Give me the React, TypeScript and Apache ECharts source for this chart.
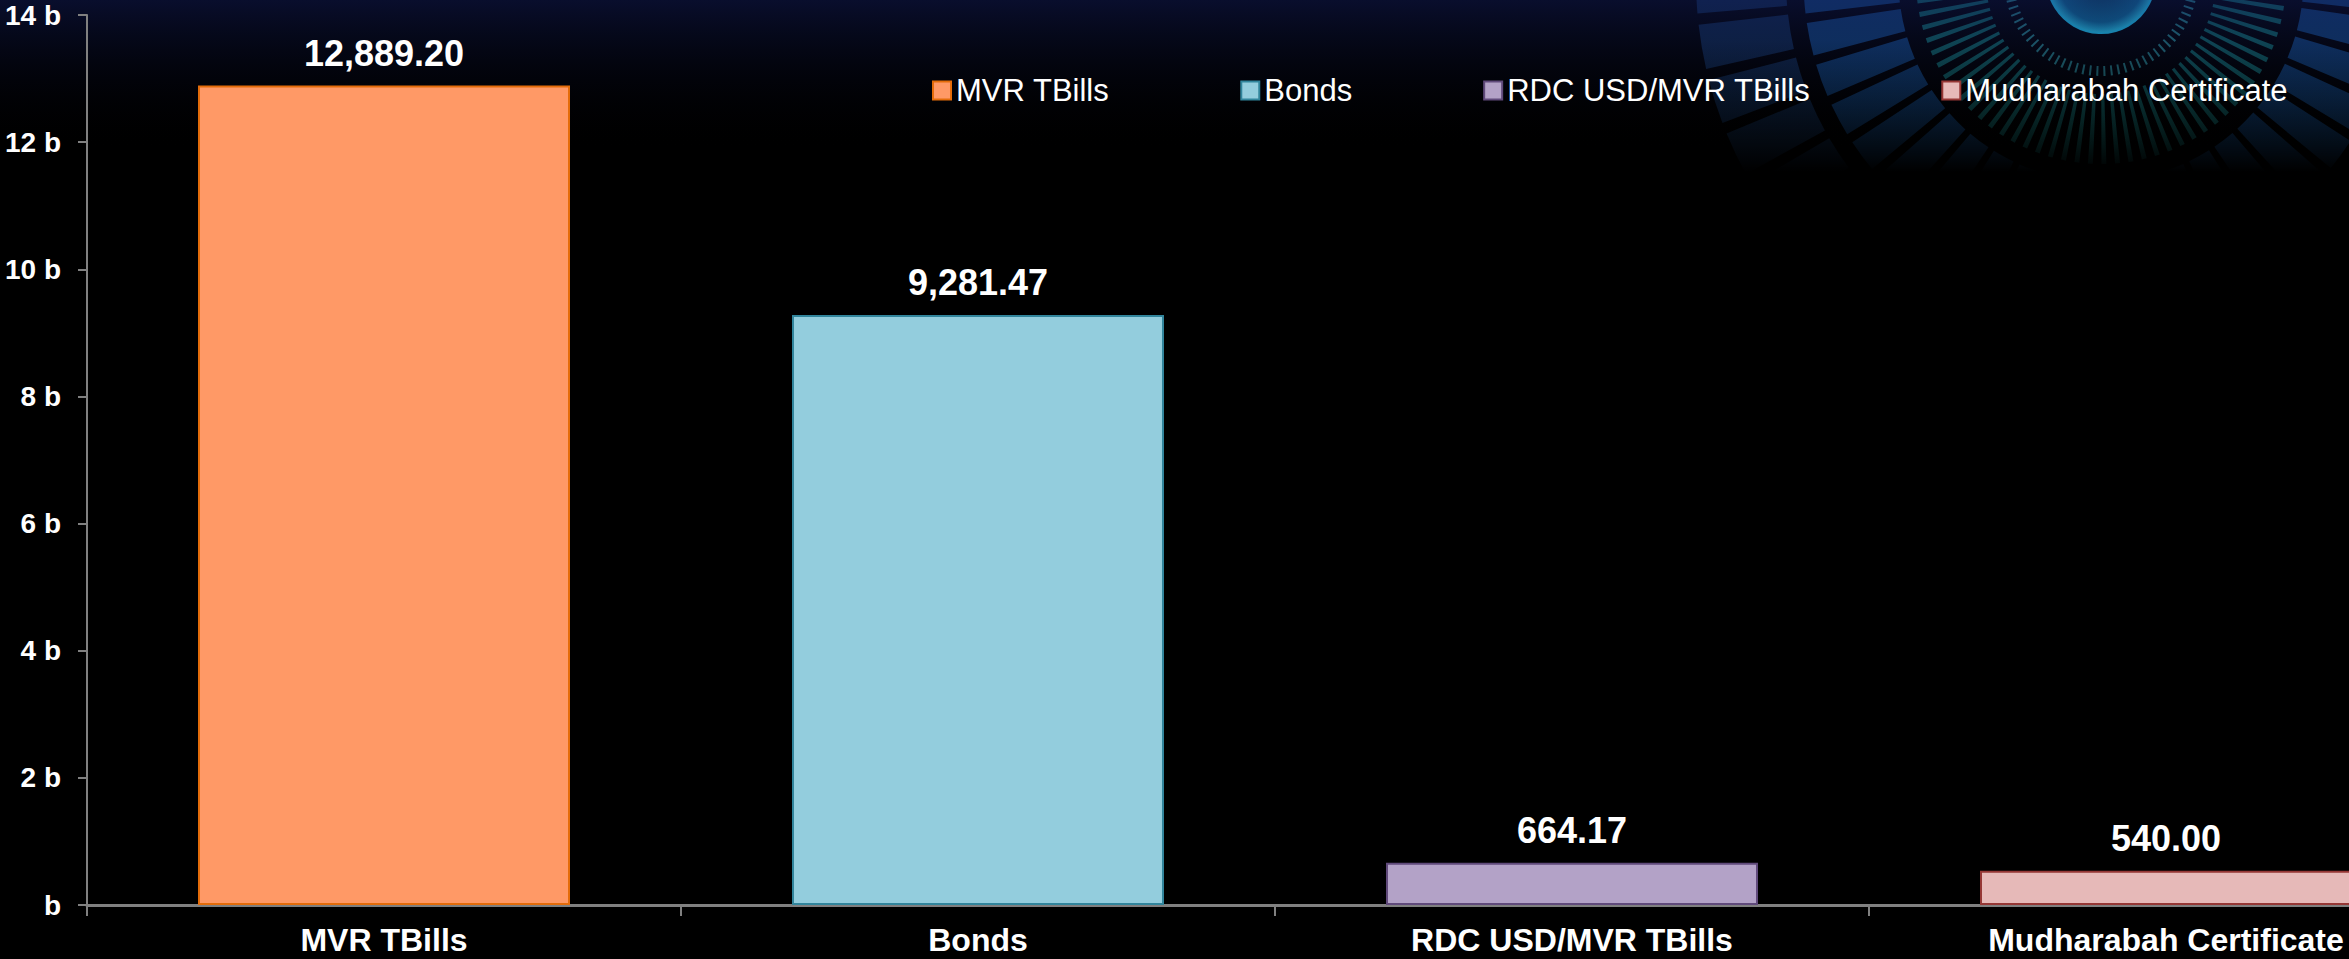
import React, { useEffect, useRef } from "react";
import * as echarts from "echarts";

const categories = ["MVR TBills", "Bonds", "RDC USD/MVR TBills", "Mudharabah Certificate"];
const values = [12889.2, 9281.47, 664.17, 540.0];
const fillColors = ["#FF9966", "#93CDDD", "#B3A2C7", "#E6B9B8"];
const borderColors = ["#E46C0A", "#31859C", "#604A7B", "#953735"];
const yMax = 14000;
const yInterval = 2000;

const FONT = "'Liberation Sans', Arial, sans-serif";

export default function App() {
  const ref = useRef<HTMLDivElement>(null);
  useEffect(() => {
    if (!ref.current) return;
    const chart = echarts.init(ref.current, undefined, { renderer: "svg" });
    const series = categories.map((name, i) => ({
      name,
      type: "bar",
      stack: "all",
      barWidth: 372,
      data: categories.map((_, j) => (j === i ? values[i] : "-")),
      itemStyle: { color: fillColors[i], borderColor: borderColors[i], borderWidth: 2 },
      label: {
        show: true,
        position: "top",
        distance: 14,
        color: "#ffffff",
        fontFamily: FONT,
        fontWeight: "bold",
        fontSize: 36,
        formatter: (p: any) =>
          Number(p.value).toLocaleString("en-US", { minimumFractionDigits: 2, maximumFractionDigits: 2 }),
      },
    }));
    chart.setOption({
      animation: false,
      backgroundColor: "#000000",
      textStyle: { fontFamily: FONT },
      graphic: [
        {
          type: "circle",
          z: -15,
          silent: true,
          shape: { cx: 2101, cy: -21, r: 360 },
          style: { fill: "none", stroke: "rgba(40,110,200,0.35)", lineWidth: 90, lineDash: [40, 10] },
        },
        {
          type: "circle",
          z: -15,
          silent: true,
          shape: { cx: 2101, cy: -21, r: 250 },
          style: { fill: "none", stroke: "rgba(30,120,220,0.5)", lineWidth: 95, lineDash: [28, 8] },
        },
        {
          type: "circle",
          z: -15,
          silent: true,
          shape: { cx: 2101, cy: -21, r: 150 },
          style: { fill: "none", stroke: "rgba(30,190,190,0.5)", lineWidth: 70, lineDash: [4, 7] },
        },
        {
          type: "circle",
          z: -15,
          silent: true,
          shape: { cx: 2101, cy: -21, r: 92 },
          style: { fill: "none", stroke: "rgba(60,200,210,0.6)", lineWidth: 10, lineDash: [2, 5] },
        },
        {
          type: "circle",
          z: -15,
          silent: true,
          shape: { cx: 2101, cy: -21, r: 54 },
          style: {
            fill: new echarts.graphic.RadialGradient(0.5, 0.5, 0.5, [
              { offset: 0, color: "#0b3a55" },
              { offset: 0.8, color: "#0d6f9a" },
              { offset: 1, color: "#27d0f0" },
            ]),
            stroke: "#1ec8f0",
            lineWidth: 2,
          },
        },
        {
          type: "rect",
          z: -10,
          silent: true,
          shape: { x: 1500, y: 40, width: 963, height: 400 },
          style: {
            fill: new echarts.graphic.LinearGradient(0, 0, 0, 1, [
              { offset: 0, color: "rgba(0,0,0,0)" },
              { offset: 0.33, color: "rgba(0,0,0,1)" },
              { offset: 1, color: "rgba(0,0,0,1)" },
            ]),
          },
        },
        {
          type: "rect",
          z: -5,
          silent: true,
          shape: { x: 0, y: 0, width: 2463, height: 150 },
          style: {
            fill: new echarts.graphic.LinearGradient(0, 0, 0, 1, [
              { offset: 0, color: "rgba(18,28,90,0.5)" },
              { offset: 1, color: "rgba(0,0,0,0)" },
            ]),
          },
        },
      ],
      legend: {
        data: categories,
        left: 927,
        top: 70,
        itemWidth: 18,
        itemHeight: 18,
        itemGap: 131,
        icon: "rect",
        textStyle: { color: "#ffffff", fontSize: 31, fontFamily: FONT },
      },
      grid: { left: 87, right: 0, top: 15, bottom: 54, containLabel: false },
      xAxis: {
        type: "category",
        data: categories,
        axisLine: { lineStyle: { color: "#808080", width: 3 } },
        axisTick: { show: true, length: 11, lineStyle: { color: "#808080", width: 2 } },
        axisLabel: {
          color: "#ffffff",
          fontSize: 32,
          fontWeight: "bold",
          fontFamily: FONT,
          margin: 19,
          interval: 0,
        },
      },
      yAxis: {
        type: "value",
        min: 0,
        max: yMax,
        interval: yInterval,
        splitLine: { show: false },
        axisLine: { show: true, lineStyle: { color: "#808080", width: 2 } },
        axisTick: { show: true, length: 9, lineStyle: { color: "#808080", width: 2 } },
        axisLabel: {
          color: "#ffffff",
          fontSize: 28,
          fontWeight: "bold",
          fontFamily: FONT,
          margin: 26,
          formatter: (v: number) => (v === 0 ? "b" : `${v / 1000} b`),
        },
      },
      series,
    });
    return () => chart.dispose();
  }, []);
  return (
    <div
      style={{
        position: "fixed",
        left: 0,
        top: 0,
        width: 2349,
        height: 959,
        overflow: "hidden",
        background: "#000",
      }}
    >
      <div ref={ref} style={{ width: 2463, height: 959 }} />
    </div>
  );
}
